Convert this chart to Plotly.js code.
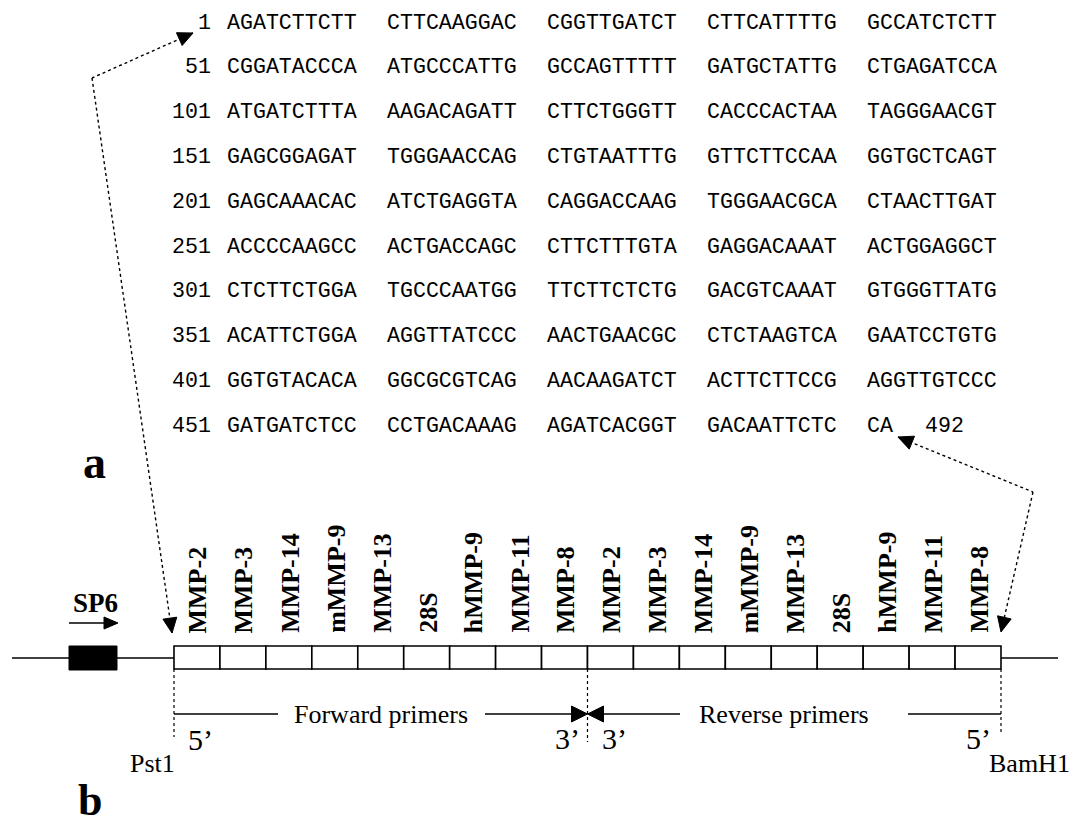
<!DOCTYPE html>
<html>
<head>
<meta charset="utf-8">
<script src="https://cdn.plot.ly/plotly-3.0.1.min.js"></script>
<style>html,body{margin:0;padding:0;background:#fff;}#chart{width:1077px;height:827px;}</style>
</head>
<body>
<div id="chart"></div>
<script>
// ---- data ----
var seqStarts = [1, 51, 101, 151, 201, 251, 301, 351, 401, 451];
var seqRows = [
  ["AGATCTTCTT", "CTTCAAGGAC", "CGGTTGATCT", "CTTCATTTTG", "GCCATCTCTT"],
  ["CGGATACCCA", "ATGCCCATTG", "GCCAGTTTTT", "GATGCTATTG", "CTGAGATCCA"],
  ["ATGATCTTTA", "AAGACAGATT", "CTTCTGGGTT", "CACCCACTAA", "TAGGGAACGT"],
  ["GAGCGGAGAT", "TGGGAACCAG", "CTGTAATTTG", "GTTCTTCCAA", "GGTGCTCAGT"],
  ["GAGCAAACAC", "ATCTGAGGTA", "CAGGACCAAG", "TGGGAACGCA", "CTAACTTGAT"],
  ["ACCCCAAGCC", "ACTGACCAGC", "CTTCTTTGTA", "GAGGACAAAT", "ACTGGAGGCT"],
  ["CTCTTCTGGA", "TGCCCAATGG", "TTCTTCTCTG", "GACGTCAAAT", "GTGGGTTATG"],
  ["ACATTCTGGA", "AGGTTATCCC", "AACTGAACGC", "CTCTAAGTCA", "GAATCCTGTG"],
  ["GGTGTACACA", "GGCGCGTCAG", "AACAAGATCT", "ACTTCTTCCG", "AGGTTGTCCC"],
  ["GATGATCTCC", "CCTGACAAAG", "AGATCACGGT", "GACAATTCTC", "CA"]
];
var seqEnd = "492";
var geneNames = ["MMP-2", "MMP-3", "MMP-14", "mMMP-9", "MMP-13", "28S", "hMMP-9", "MMP-11", "MMP-8"];
var cassette = geneNames.concat(geneNames);   // forward primers then reverse primers
var promoterLabel = "SP6";
var siteLabels = ["Pst1", "BamH1"];
var primerLabels = ["Forward primers", "Reverse primers"];
var endLabels = ["5\u2019", "3\u2019", "3\u2019", "5\u2019"];
var panelLabels = ["a", "b"];

// ---- layout geometry ----
var MONO = "Liberation Mono, Courier New, monospace";
var SERIF = "Liberation Serif, Times New Roman, serif";
var row0 = 22.5, rowStep = 44.8;
var numRight = 212, grp0 = 226, grpStep = 160;
var boxL = 174, boxR = 1001, boxTop = 646, boxBot = 669, lineY = 658;
var cellW = (boxR - boxL) / cassette.length;
var midX = boxL + cellW * geneNames.length;
var primY = 714;

var ann = [];
var shapes = [];

function txt(x, y, s, o) {
  var a = {x: x, y: y, xref: 'x', yref: 'y', text: s, showarrow: false,
           xanchor: 'center', yanchor: 'middle', borderpad: 0,
           font: {family: SERIF, size: 26, color: '#000'}};
  for (var k in o) a[k] = o[k];
  ann.push(a);
}
function line(x0, y0, x1, y1, dash, w) {
  shapes.push({type: 'line', xref: 'x', yref: 'y', x0: x0, y0: y0, x1: x1, y1: y1,
               line: {color: '#000', width: w || 1.6, dash: dash || 'solid'}});
}
function head(tx, ty, fx, fy, L, W) {
  L = L || 15; W = W || 7;
  var dx = tx - fx, dy = ty - fy, d = Math.sqrt(dx * dx + dy * dy);
  var ux = dx / d, uy = dy / d, bx = tx - L * ux, by = ty - L * uy;
  var nx = -uy, ny = ux;
  shapes.push({type: 'path', xref: 'x', yref: 'y',
    path: 'M' + tx + ',' + ty + ' L' + (bx + W * nx) + ',' + (by + W * ny) +
          ' L' + (bx - W * nx) + ',' + (by - W * ny) + ' Z',
    fillcolor: '#000', line: {color: '#000', width: 1}});
}
function dotted(pts) {
  for (var i = 0; i < pts.length - 1; i++)
    line(pts[i][0], pts[i][1], pts[i + 1][0], pts[i + 1][1], 'dot', 1.4);
  head(pts[0][0], pts[0][1], pts[1][0], pts[1][1]);
  var n = pts.length;
  head(pts[n - 1][0], pts[n - 1][1], pts[n - 2][0], pts[n - 2][1]);
}

// sequence (panel a)
seqRows.forEach(function (row, i) {
  var y = row0 + rowStep * i;
  txt(numRight, y, String(seqStarts[i]), {xanchor: 'right', font: {family: MONO, size: 21.6, color: '#000'}});
  row.forEach(function (g, j) {
    txt(grp0 + grpStep * j, y, g, {xanchor: 'left', font: {family: MONO, size: 21.6, color: '#000'}});
  });
});
txt(grp0 + grpStep * 4 + 58, row0 + rowStep * 9, seqEnd, {xanchor: 'left', font: {family: MONO, size: 21.6, color: '#000'}});

txt(94, 462, panelLabels[0], {font: {family: SERIF, size: 46, color: '#000', weight: 'bold'}});
txt(90, 800, panelLabels[1], {font: {family: SERIF, size: 44, color: '#000', weight: 'bold'}});

// backbone line
line(12, lineY, boxL, lineY);
line(boxR, lineY, 1058, lineY);
// SP6 promoter
shapes.push({type: 'rect', xref: 'x', yref: 'y', x0: 69, x1: 117, y0: boxTop, y1: boxBot + 1,
             fillcolor: '#000', line: {color: '#000', width: 1}});
txt(95, 603, promoterLabel, {font: {family: SERIF, size: 27, color: '#000', weight: 'bold'}});
line(69, 623, 104, 623, 'solid', 1.6);
head(118, 623, 69, 623, 14, 6);

// cassette cells and labels
cassette.forEach(function (g, i) {
  var x0 = boxL + cellW * i;
  shapes.push({type: 'rect', xref: 'x', yref: 'y', x0: x0, x1: x0 + cellW, y0: boxTop, y1: boxBot,
               fillcolor: '#fff', line: {color: '#000', width: 1.6}});
  txt(x0 + cellW / 2 + 1, 634, g, {textangle: -90, yanchor: 'bottom',
      font: {family: SERIF, size: 26, color: '#000', weight: 'bold'}});
});

// dotted boundaries
line(boxL, boxBot, boxL, 737, 'dot', 1.2);
line(midX, boxBot, midX, 742, 'dot', 1.2);
line(boxR, boxBot, boxR, 735, 'dot', 1.2);

// primer arrows
line(boxL, primY, 278, primY);
line(485, primY, 575, primY);
head(midX, primY, 485, primY, 16, 8);
line(601, primY, 680, primY);
head(midX, primY, 680, primY, 16, 8);
line(908, primY, boxR, primY);
txt(381, primY, primerLabels[0]);
txt(784, primY, primerLabels[1]);
var endFont = {family: SERIF, size: 30, color: '#000'};
txt(200, 739, endLabels[0], {font: endFont});
txt(567, 738, endLabels[1], {font: endFont});
txt(614, 738, endLabels[2], {font: endFont});
txt(978, 738, endLabels[3], {font: endFont});
txt(152, 763, siteLabels[0]);
txt(1029, 763, siteLabels[1]);

// connector arrows (sequence ends -> cloning sites)
dotted([[193, 33], [92, 78], [172, 633]]);
dotted([[898, 437], [1033, 492], [1001, 632]]);

var layout = {
  width: 1077, height: 827,
  margin: {l: 0, r: 0, t: 0, b: 0},
  paper_bgcolor: '#fff', plot_bgcolor: '#fff',
  showlegend: false,
  xaxis: {range: [0, 1077], visible: false, fixedrange: true},
  yaxis: {range: [827, 0], visible: false, fixedrange: true},
  annotations: ann,
  shapes: shapes
};
Plotly.newPlot('chart', [{x: [], y: [], type: 'scatter', mode: 'markers', hoverinfo: 'skip'}], layout,
               {staticPlot: true, displayModeBar: false});
</script>
</body>
</html>
